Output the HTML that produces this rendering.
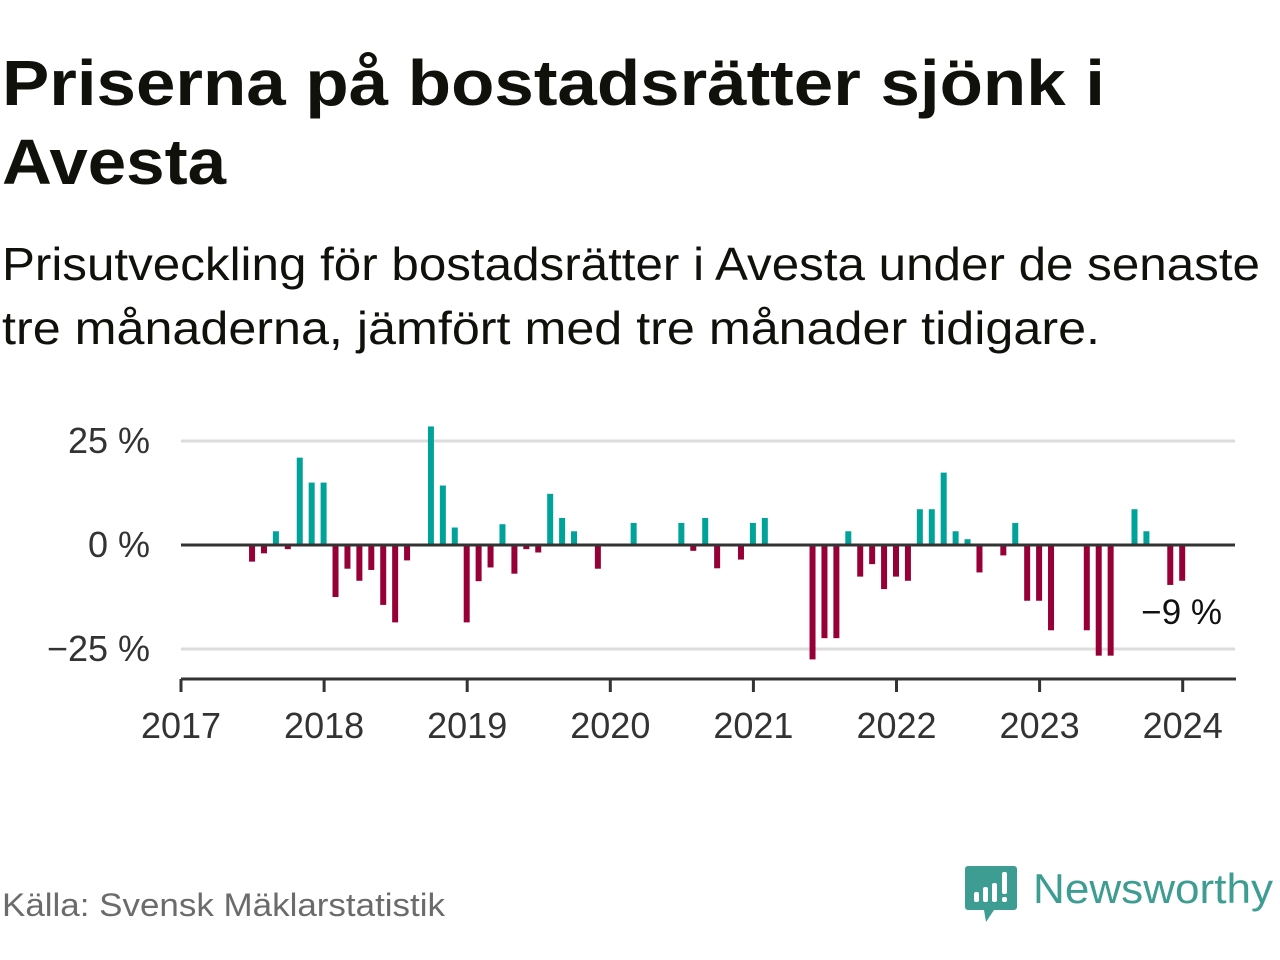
<!DOCTYPE html>
<html><head><meta charset="utf-8"><style>
html,body{margin:0;padding:0;background:#fff;}
svg{display:block;font-family:"Liberation Sans",sans-serif;}
</style></head><body>
<svg id="chart" width="1280" height="960" viewBox="0 0 1280 960">
<text x="2" y="105" font-size="64" font-weight="bold" fill="#11110c" textLength="1103" lengthAdjust="spacingAndGlyphs">Priserna på bostadsrätter sjönk i</text>
<text x="2" y="184" font-size="64" font-weight="bold" fill="#11110c" textLength="224" lengthAdjust="spacingAndGlyphs">Avesta</text>
<text x="2" y="280" font-size="46" fill="#11110c" textLength="1258" lengthAdjust="spacingAndGlyphs">Prisutveckling för bostadsrätter i Avesta under de senaste</text>
<text x="2" y="344" font-size="46" fill="#11110c" textLength="1098" lengthAdjust="spacingAndGlyphs">tre månaderna, jämfört med tre månader tidigare.</text>
<g id="grid"></g>
<g id="bars"></g>
<g id="axis"></g>
<text x="1222" y="624" font-size="35" fill="#111" text-anchor="end">−9 %</text>
<text x="2" y="916" font-size="32" fill="#6b6b6b" textLength="443" lengthAdjust="spacingAndGlyphs">Källa: Svensk Mäklarstatistik</text>
<g>
<path d="M968 866 h46 a3 3 0 0 1 3 3 v38 a3 3 0 0 1 -3 3 h-20 l-8 12 l-2 -12 h-16 a3 3 0 0 1 -3 -3 v-38 a3 3 0 0 1 3 -3z" fill="#3d9d93"/>
<rect x="974" y="892" width="5" height="10" rx="2" fill="#fff"/>
<rect x="983" y="887" width="5" height="15" rx="2" fill="#fff"/>
<rect x="992" y="883" width="5" height="19" rx="2" fill="#fff"/>
<rect x="1002" y="872" width="5" height="22" rx="2" fill="#fff"/>
<rect x="1002" y="897" width="5" height="5" rx="2" fill="#fff"/>
<text x="1033" y="903" font-size="42" fill="#3d9d93" textLength="240" lengthAdjust="spacingAndGlyphs">Newsworthy</text>
</g>
</svg>
<script>
const startMonth = 6; // index of first value, months after Jan 2017
const changeValues = [-4,-2,3.3,-1,21,15,15,-12.5,-5.7,-8.6,-6,-14.4,-18.6,-3.7,null,28.5,14.3,4.2,-18.6,-8.7,-5.4,5,-6.9,-1,-1.8,12.3,6.5,3.3,null,-5.7,null,null,5.3,null,null,null,5.3,-1.4,6.5,-5.6,null,-3.5,5.3,6.5,null,null,null,-27.5,-22.4,-22.4,3.3,-7.6,-4.6,-10.6,-7.6,-8.6,8.6,8.6,17.4,3.3,1.4,-6.6,null,-2.5,5.3,-13.4,-13.4,-20.5,null,null,-20.5,-26.6,-26.6,null,8.6,3.3,null,-9.6,-8.6];
const yTicks = [25,0,-25];
const yTickLabels = ["25 %","0 %","−25 %"];
const years = [2017,2018,2019,2020,2021,2022,2023,2024];
const NS="http://www.w3.org/2000/svg";
const x0=181, pxPerMonth=143.1/12, y0=545, pxPerPct=4.16;
const xScale = m => x0 + m*pxPerMonth;
const yScale = v => y0 - v*pxPerPct;
function mk(tag, attrs, parent){const e=document.createElementNS(NS,tag);for(const k in attrs)e.setAttribute(k,attrs[k]);parent.appendChild(e);return e;}
const grid=document.getElementById('grid'), bars=document.getElementById('bars'), axis=document.getElementById('axis');
yTicks.forEach((t,i)=>{
  if(t!==0){
    const l=mk('line',{x1:181,x2:1235,y1:yScale(t),y2:yScale(t),stroke:'#dcdcdc','stroke-width':3},grid);
    
    
  }
  const tx=mk('text',{x:150,y:yScale(t)+12,'font-size':36,fill:'#333','text-anchor':'end'},grid);
  tx.textContent=yTickLabels[i];
  
  
});
changeValues.forEach((v,i)=>{
  if(v===null) return;
  const m=startMonth+i, cx=xScale(m)-0.5;
  const top=Math.min(yScale(v),y0), h=Math.abs(yScale(v)-y0);
  const r=mk('rect',{x:cx-3,y:top,width:6,height:h,fill:v>=0?'#00a39a':'#970037'},bars);
  
  
});
const zl=mk('line',{x1:181,x2:1235,y1:y0,y2:y0,stroke:'#333','stroke-width':3},axis);


const xl=mk('line',{x1:181,x2:1236,y1:679,y2:679,stroke:'#333','stroke-width':3},axis);


years.forEach((yr,i)=>{
  const x=xScale(i*12);
  const tk=mk('line',{x1:x,x2:x,y1:679,y2:692,stroke:'#333','stroke-width':3},axis);
  
  
  const tx=mk('text',{x:x,y:738,'font-size':36,fill:'#333','text-anchor':'middle'},axis);
  tx.textContent=yr;
  
  
});
</script>
</body></html>
